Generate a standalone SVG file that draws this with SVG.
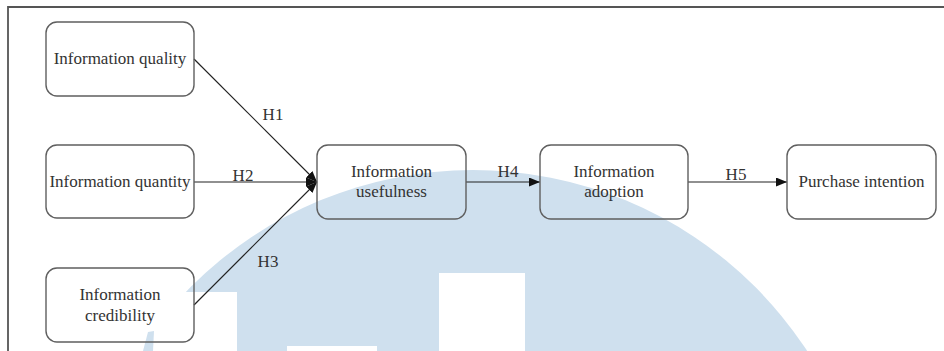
<svg xmlns="http://www.w3.org/2000/svg" width="944" height="351" viewBox="0 0 944 351">
<style>
.box{fill:none;stroke:#5f5f5f;stroke-width:1.4}
.t{font-family:"Liberation Serif","Times New Roman",serif;font-size:17px;fill:#333;text-anchor:middle}
.c{fill:none;stroke:#222;stroke-width:1.2}
.wm{fill:#cfe0ee}
</style>
<defs>
<marker id="ah" markerUnits="userSpaceOnUse" markerWidth="12" markerHeight="10" refX="11" refY="4.5" orient="auto">
<path d="M0,0 L11,4.5 L0,9 z" fill="#111"/>
</marker>
<mask id="wmask">
<rect x="0" y="0" width="944" height="351" fill="#fff"/>
<rect x="100" y="292" width="137" height="60" fill="#000"/>
<rect x="439" y="273" width="86" height="80" fill="#000"/>
<rect x="287" y="346" width="90" height="10" fill="#000"/>
</mask>
</defs>
<rect width="944" height="351" fill="#fff"/>
<g id="watermark">
<circle class="wm" cx="473" cy="569" r="399" mask="url(#wmask)"/>
<polygon class="wm" points="148,332 154,331 153,351 143,351"/>
</g>
<g id="frame" fill="none" stroke="#555" stroke-width="1.8">
<path d="M8,351 L8,7 L944,7"/>
</g>
<g id="connectors">
<line class="c" x1="194" y1="59" x2="317" y2="182" marker-end="url(#ah)"/>
<line class="c" x1="194" y1="182" x2="317" y2="182" marker-end="url(#ah)"/>
<line class="c" x1="194" y1="305" x2="317" y2="182" marker-end="url(#ah)"/>
<line class="c" x1="466" y1="182" x2="540" y2="182" marker-end="url(#ah)"/>
<line class="c" x1="688" y1="182" x2="787" y2="182" marker-end="url(#ah)"/>
<text class="t" x="273" y="120">H1</text>
<text class="t" x="243" y="181">H2</text>
<text class="t" x="268" y="267">H3</text>
<text class="t" x="508" y="177">H4</text>
<text class="t" x="736" y="180">H5</text>
</g>
<g id="n-quality">
<rect class="box" x="46" y="22" width="148" height="74" rx="11"/>
<text class="t" x="120" y="64">Information quality</text>
</g>
<g id="n-quantity">
<rect class="box" x="46" y="145" width="148" height="73" rx="11"/>
<text class="t" x="120" y="187">Information quantity</text>
</g>
<g id="n-credibility">
<rect class="box" x="46" y="268" width="148" height="74" rx="11"/>
<text class="t" x="120" y="300">Information</text>
<text class="t" x="120" y="321">credibility</text>
</g>
<g id="n-usefulness">
<rect class="box" x="317" y="145" width="149" height="74" rx="11"/>
<text class="t" x="391.5" y="177">Information</text>
<text class="t" x="391.5" y="197">usefulness</text>
</g>
<g id="n-adoption">
<rect class="box" x="540" y="145" width="148" height="74" rx="11"/>
<text class="t" x="614" y="177">Information</text>
<text class="t" x="614" y="197">adoption</text>
</g>
<g id="n-purchase">
<rect class="box" x="787" y="145" width="149" height="74" rx="11"/>
<text class="t" x="861.5" y="187">Purchase intention</text>
</g>
</svg>
